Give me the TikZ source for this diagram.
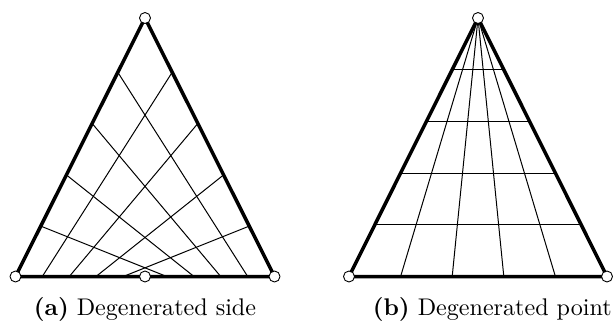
\documentclass[tikz,border=0pt]{standalone}
\usetikzlibrary{calc}
\begin{document}
\begin{tikzpicture}[x=1pt,y=-1pt,
  edge/.style={line width=3.5pt, line cap=round, line join=round},
  gridline/.style={line width=1pt},
  vtx/.style={circle, draw, fill=white, line width=0.9pt, minimum size=11pt, inner sep=0pt},
  captext/.style={anchor=base west, inner sep=0pt, font=\fontsize{10}{12}\selectfont, scale=2.41, transform shape}]
\useasboundingbox (0,0) rectangle (616,322);
% ---------- (a) degenerated side ----------
\coordinate (A) at (145,18);
\coordinate (BL) at (15.5,276.5);
\coordinate (BR) at (274.5,276.5);
\coordinate (M) at (145,276.5);
\foreach \i/\t in {1/0.195,2/0.393,3/0.592,4/0.79}{
  \coordinate (L\i) at ($(BL)!\t!(A)$);
  \coordinate (R\i) at ($(BR)!\t!(A)$);
}
\foreach \i/\x in {1/166.7,2/194,3/220.7,4/247.7}{
  \coordinate (D\i) at (\x,276.5);
}
\foreach \i/\x in {1/123.3,2/96,3/69.3,4/42.3}{
  \coordinate (E\i) at (\x,276.5);
}
\foreach \i in {1,...,4}{
  \draw[gridline] (L\i) -- (D\i);
  \draw[gridline] (R\i) -- (E\i);
}
\draw[edge] (BL) -- (A) -- (BR) -- (M) -- cycle;
\node[vtx] (vA) at (A) {};
\node[vtx] (vBL) at (BL) {};
\node[vtx] (vBR) at (BR) {};
\node[vtx] (vM) at (M) {};
\node[captext] (capa) at (33.3,315) {\textbf{(a)} Degenerated side};
% ---------- (b) degenerated point ----------
\coordinate (P) at (478,18);
\coordinate (QL) at (349,276.5);
\coordinate (QR) at (607,276.5);
\foreach \i/\t in {1/0.2,2/0.4,3/0.6,4/0.8}{
  \coordinate (HL\i) at ($(QL)!\t!(P)$);
  \coordinate (HR\i) at ($(QR)!\t!(P)$);
  \coordinate (B\i) at ($(QL)!\t!(QR)$);
  \draw[gridline] (HL\i) -- (HR\i);
  \draw[gridline] (P) -- (B\i);
}
\draw[edge] (QL) -- (P) -- (QR) -- cycle;
\node[vtx] (vP) at (P) {};
\node[vtx] (vQL) at (QL) {};
\node[vtx] (vQR) at (QR) {};
\node[captext] (capb) at (372.3,315) {\textbf{(b)} Degenerated point};
\end{tikzpicture}
\end{document}
